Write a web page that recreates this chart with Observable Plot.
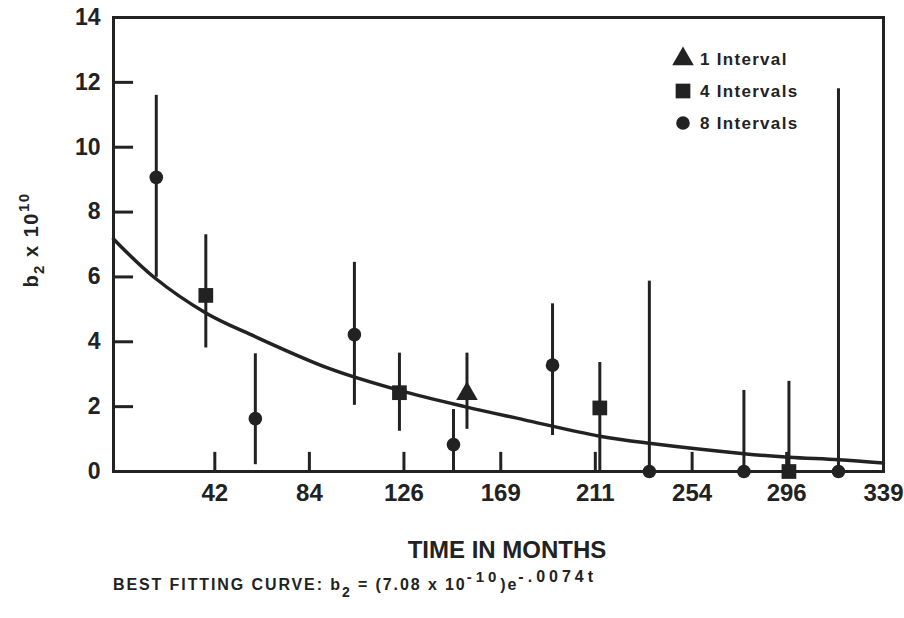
<!DOCTYPE html>
<html>
<head>
<meta charset="utf-8">
<script src="https://cdn.jsdelivr.net/npm/d3@7"></script>
<script src="https://cdn.jsdelivr.net/npm/@observablehq/plot@0.6"></script>
<style>
  html, body { margin: 0; padding: 0; background: #fff; }
  #chart svg { display: block; }
</style>
</head>
<body>
<div id="chart"></div>
<script>
// Estimates of b2 (in units of 1e-10) against time, grouped by how many
// intervals the record was split into; each has a low/high uncertainty bar.
const seriesNames = ["1 Interval", "4 Intervals", "8 Intervals"];

const oneT  = [154];
const oneV  = [2.4];
const oneLo = [1.3];
const oneHi = [3.65];

const fourT  = [38, 124, 213, 297];
const fourV  = [5.43, 2.43, 1.96, 0];
const fourLo = [3.81, 1.24, 0, 0];
const fourHi = [7.30, 3.65, 3.36, 2.78];

const eightT  = [16, 60, 104, 148, 192, 235, 277, 319];
const eightV  = [9.07, 1.63, 4.22, 0.83, 3.28, 0, 0, 0];
const eightLo = [5.99, 0.21, 2.04, 0, 1.11, 0, 0, 0];
const eightHi = [11.6, 3.63, 6.45, 1.91, 5.17, 5.87, 2.50, 11.8];

// Best fitting decay curve, sampled along the time axis
const fitT = [-3, 15, 38, 58, 93, 124, 153, 179, 213, 235, 277, 297, 319, 339];
const fitV = [7.17, 5.99, 4.89, 4.22, 3.17, 2.50, 2.00, 1.60, 1.09, 0.87, 0.55, 0.44, 0.36, 0.26];

// Axis ticks
const xTicks = [42, 84, 126, 169, 211, 254, 296, 339];
const yTicks = [0, 2, 4, 6, 8, 10, 12, 14];

const xDomain = [-3, 339];
const yDomain = [0, 14];

const ink = "#222";
const font = "'Liberation Sans', Arial, Helvetica, sans-serif";

// inward tick lengths, expressed in data units of the other axis
const xTickLen = 0.59;  // in b2 units
const yTickLen = 8.9;   // in months

const rows = (name, T, V, L, H) => T.map((t, i) => ({series: name, t, v: V[i], lo: L[i], hi: H[i]}));
const one = rows(seriesNames[0], oneT, oneV, oneLo, oneHi);
const four = rows(seriesNames[1], fourT, fourV, fourLo, fourHi);
const eight = rows(seriesNames[2], eightT, eightV, eightLo, eightHi);
const all = [...one, ...four, ...eight];
const fit = fitT.map((t, i) => ({t, v: fitV[i]}));

const sym = {circle: {symbol: "circle", r: 6.8}, square: {symbol: "square", r: 8.3}, triangle: {symbol: "triangle", r: 8}};

const plot = Plot.plot({
  width: 904,
  height: 618,
  marginTop: 17,
  marginRight: 21,
  marginBottom: 147,
  marginLeft: 113,
  x: {domain: xDomain},
  y: {domain: yDomain},
  style: {fontFamily: font, color: ink, background: "#fff", overflow: "visible"},
  marks: [
    Plot.frame({stroke: ink, strokeWidth: 3}),
    Plot.ruleX(xTicks.slice(0, -1), {x: d => d, y1: yDomain[0], y2: yDomain[0] + xTickLen, stroke: ink, strokeWidth: 3}),
    Plot.ruleY(yTicks.slice(1, -1), {y: d => d, x1: xDomain[0], x2: xDomain[0] + yTickLen, stroke: ink, strokeWidth: 3}),
    Plot.line(fit, {x: "t", y: "v", curve: "catmull-rom", stroke: ink, strokeWidth: 3.5}),
    Plot.ruleX(all, {x: "t", y1: "lo", y2: "hi", stroke: ink, strokeWidth: 3}),
    Plot.dot(eight, {x: "t", y: "v", symbol: sym.circle.symbol, r: sym.circle.r, fill: ink, stroke: "none"}),
    Plot.dot(four, {x: "t", y: "v", symbol: sym.square.symbol, r: sym.square.r, fill: ink, stroke: "none"}),
    Plot.dot(one, {x: "t", y: "v", symbol: sym.triangle.symbol, r: sym.triangle.r, fill: ink, stroke: "none"}),
    Plot.axisX(xTicks, {tickSize: 0, tickPadding: 12, fontSize: 24, fontWeight: "bold", label: null}),
    Plot.axisY(yTicks, {tickSize: 0, tickPadding: 13, fontSize: 23, fontWeight: "bold", label: null})
  ]
});

const svg = d3.select(plot);

// Legend, upper right inside the frame
const legendItems = [
  {label: seriesNames[0], shape: d3.symbolTriangle, r: sym.triangle.r, y: 59},
  {label: seriesNames[1], shape: d3.symbolSquare, r: sym.square.r, y: 91},
  {label: seriesNames[2], shape: d3.symbolCircle, r: sym.circle.r, y: 123}
];
const legend = svg.append("g").attr("class", "legend");
legendItems.forEach(d => {
  legend.append("path")
    .attr("transform", `translate(683,${d.y})`)
    .attr("d", d3.symbol(d.shape, Math.PI * d.r * d.r)())
    .attr("fill", ink);
  legend.append("text")
    .attr("x", 700).attr("y", d.y).attr("dy", "0.35em")
    .attr("text-anchor", "start")
    .attr("font-size", 17).attr("font-weight", "bold")
    .attr("letter-spacing", "1.3px")
    .attr("fill", ink)
    .text(d.label);
});

// Axis titles
const yTitle = svg.append("text")
  .attr("transform", "translate(38,240) rotate(-90)")
  .attr("text-anchor", "middle")
  .attr("font-size", 20).attr("font-weight", "bold")
  .attr("letter-spacing", "1.5px")
  .attr("fill", ink);
yTitle.append("tspan").text("b");
yTitle.append("tspan").attr("font-size", 15).attr("dy", "6px").text("2");
yTitle.append("tspan").attr("dy", "-6px").text(" x 10");
yTitle.append("tspan").attr("font-size", 15).attr("dy", "-9px").text("10");

svg.append("text")
  .attr("x", 507).attr("y", 558)
  .attr("text-anchor", "middle")
  .attr("font-size", 24).attr("font-weight", "bold")
  .attr("fill", ink)
  .text("TIME IN MONTHS");

// Caption with the fitted equation
const cap = svg.append("text")
  .attr("x", 113).attr("y", 590)
  .attr("text-anchor", "start")
  .attr("font-size", 16).attr("font-weight", "bold")
  .attr("letter-spacing", "1.9px")
  .attr("fill", ink);
cap.append("tspan").text("BEST FITTING CURVE: b");
cap.append("tspan").attr("font-size", 14).attr("dy", "7px").text("2");
cap.append("tspan").attr("dy", "-7px").text(" = (7.08 x 10");
cap.append("tspan").attr("font-size", 15).attr("dy", "-8px").attr("letter-spacing", "4px").text("-10");
cap.append("tspan").attr("dy", "8px").text(")e");
cap.append("tspan").attr("font-size", 16).attr("dy", "-8px").attr("letter-spacing", "4px").text("-.0074t");

document.getElementById("chart").appendChild(plot);
</script>
</body>
</html>
